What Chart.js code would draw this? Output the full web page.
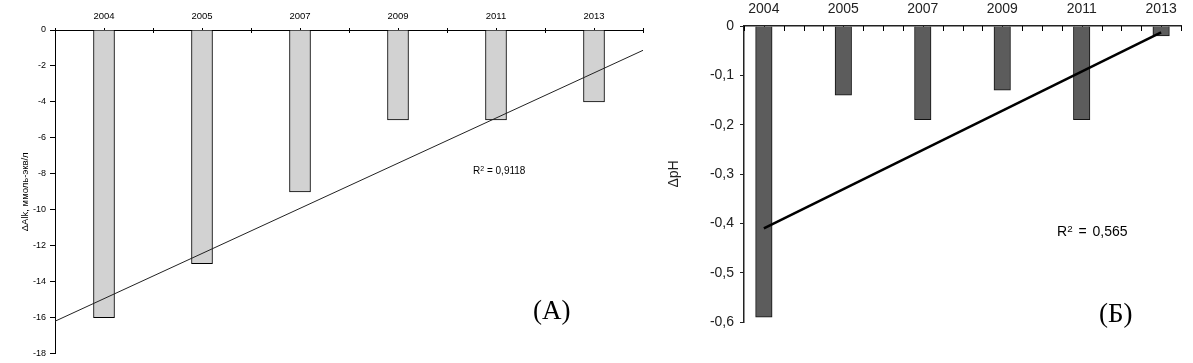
<!DOCTYPE html>
<html>
<head>
<meta charset="utf-8">
<script src="https://cdn.jsdelivr.net/npm/chart.js@4.4.0/dist/chart.umd.min.js"></script>
<style>
  body { margin: 0; background: #fff; width: 1193px; height: 363px; position: relative; overflow: hidden; }
  canvas { position: absolute; top: 0; }
  #chartA { left: 0; }
  #chartB { left: 660px; }
  .note { position: absolute; font-family: "Liberation Sans", Arial, sans-serif; color: #000; white-space: nowrap; }
  .note sup { font-size: 70%; vertical-align: 0; position: relative; top: -0.45em; }
  .panel { position: absolute; font-family: "Liberation Serif", "Times New Roman", serif; font-size: 27px; line-height: 27px; color: #000; }
</style>
</head>
<body>
<canvas id="chartA" width="660" height="363"></canvas>
<canvas id="chartB" width="533" height="363"></canvas>

<div class="note" id="r2A" style="left:473px; top:165px; font-size:10px; line-height:12px;">R<sup>2</sup> = 0,9118</div>
<div class="note" id="r2B" style="left:1057px; top:223px; font-size:14px; line-height:17px; word-spacing:2px;">R<sup>2</sup> = 0,565</div>
<div class="panel" style="left:533px; top:297px;">(А)</div>
<div class="panel" style="left:1099px; top:300px;">(Б)</div>

<script>
// years on both panels
const years = ['2004', '2005', '2007', '2009', '2011', '2013'];

// panel A: change of alkalinity, mmol-eq/l
const alkValues = [-16, -13, -9, -5, -5, -4];
// trend line, at the left and right edge of the plot
const alkTrendX = [-0.5, 5.5];
const alkTrendY = [-16.2, -1.13];

// panel B: change of pH
const phValues = [-0.59, -0.14, -0.19, -0.13, -0.19, -0.02];
const phTrendX = [0, 5];
const phTrendY = [-0.41, -0.013];

const sans = '"Liberation Sans", Arial, sans-serif';

// small tick marks on the top axis, drawn downward into the plot
const xTickMarks = {
  id: 'xTickMarks',
  beforeDatasetsDraw(chart, args, opts) {
    const sc = chart.scales.x;
    const ctx = chart.ctx;
    ctx.save();
    ctx.strokeStyle = opts.color;
    ctx.lineWidth = 1;
    sc.ticks.forEach(t => {
      const px = Math.round(sc.getPixelForValue(t.value)) + 0.5;
      ctx.beginPath();
      ctx.moveTo(px, sc.bottom + opts.from);
      ctx.lineTo(px, sc.bottom + opts.to);
      ctx.stroke();
    });
    ctx.restore();
  }
};

function points(xs, ys) {
  return xs.map((x, i) => ({ x: x, y: ys[i] }));
}

function yearLabel(v) {
  return Number.isInteger(v) ? years[v] : '';
}

new Chart(document.getElementById('chartA'), {
  type: 'bar',
  data: {
    datasets: [{
      type: 'line',
      data: points(alkTrendX, alkTrendY),
      borderColor: '#222',
      borderWidth: 1,
      pointRadius: 0,
      order: 0
    }, {
      data: points(years.map((y, i) => i), alkValues),
      backgroundColor: '#d2d2d2',
      borderColor: '#000',
      borderWidth: 1,
      barThickness: 21,
      order: 1
    }]
  },
  plugins: [xTickMarks],
  options: {
    responsive: false,
    animation: false,
    layout: { padding: { left: 0, top: 0, right: 17, bottom: 8 } },
    plugins: {
      legend: { display: false },
      tooltip: { enabled: false },
      xTickMarks: { color: '#000', from: -2, to: 3 }
    },
    scales: {
      x: {
        type: 'linear',
        position: 'top',
        min: -0.5,
        max: 5.5,
        offset: false,
        ticks: {
          stepSize: 0.5,
          autoSkip: false,
          maxRotation: 0,
          padding: 8,
          color: '#000',
          font: { family: sans, size: 9.5 },
          callback: yearLabel
        },
        grid: { drawOnChartArea: false, drawTicks: false, offset: false },
        border: { color: '#000', width: 1 },
        afterFit(s) { s.height = 30; }
      },
      y: {
        min: -18,
        max: 0,
        ticks: {
          stepSize: 2,
          padding: 4,
          color: '#000',
          font: { family: sans, size: 9 }
        },
        grid: { drawOnChartArea: false, tickLength: 5, color: '#000' },
        border: { color: '#000', width: 1 },
        title: {
          display: true,
          text: 'ΔAlk, ммоль-экв/л',
          color: '#000',
          font: { family: sans, size: 9.5 },
          padding: { top: 20, bottom: 0 }
        },
        afterFit(s) { s.width = 55; }
      }
    }
  }
});

new Chart(document.getElementById('chartB'), {
  type: 'bar',
  data: {
    datasets: [{
      type: 'line',
      data: points(phTrendX, phTrendY),
      borderColor: '#000',
      borderWidth: 2.5,
      pointRadius: 0,
      order: 0
    }, {
      data: points(years.map((y, i) => i), phValues),
      backgroundColor: '#5c5c5c',
      borderColor: '#111',
      borderWidth: 1,
      barThickness: 16.5,
      order: 1
    }]
  },
  plugins: [xTickMarks],
  options: {
    responsive: false,
    animation: false,
    layout: { padding: { left: 0, top: 0, right: 12, bottom: 41 } },
    plugins: {
      legend: { display: false },
      tooltip: { enabled: false },
      xTickMarks: { color: '#000', from: 0, to: 5 }
    },
    scales: {
      x: {
        type: 'linear',
        position: 'top',
        min: -0.25,
        max: 5.25,
        offset: false,
        ticks: {
          stepSize: 0.25,
          autoSkip: false,
          maxRotation: 0,
          padding: 8,
          color: '#222',
          font: { family: sans, size: 14 },
          callback: yearLabel
        },
        grid: { drawOnChartArea: false, drawTicks: false, offset: false },
        border: { color: '#222', width: 1.5 },
        afterFit(s) { s.height = 26; }
      },
      y: {
        min: -0.6,
        max: 0,
        ticks: {
          stepSize: 0.1,
          padding: 6,
          color: '#222',
          font: { family: sans, size: 14 },
          callback: v => v === 0 ? '0' : v.toFixed(1).replace('.', ',')
        },
        grid: { drawOnChartArea: false, tickLength: 4, color: '#222' },
        border: { color: '#222', width: 1.5 },
        title: {
          display: true,
          text: 'ΔpH',
          color: '#222',
          font: { family: sans, size: 14 },
          padding: { top: 6, bottom: 0 }
        },
        afterFit(s) { s.width = 84; }
      }
    }
  }
});
</script>
</body>
</html>
